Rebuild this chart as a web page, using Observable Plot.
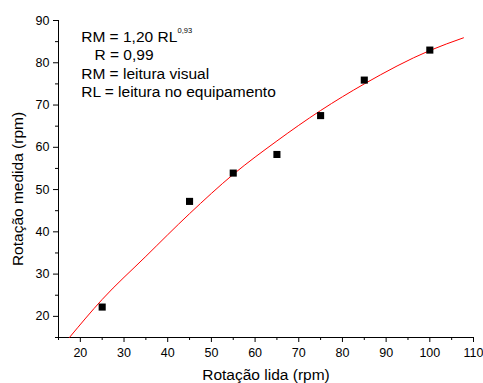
<!DOCTYPE html>
<html>
<head>
<meta charset="utf-8">
<script src="https://cdn.jsdelivr.net/npm/d3@7"></script>
<script src="https://cdn.jsdelivr.net/npm/@observablehq/plot@0.6"></script>
<style>
  html, body { margin: 0; padding: 0; background: #fff; }
  #chart svg { display: block; }
</style>
</head>
<body>
<div id="chart"></div>
<script>
// Measured rotation (visual reading) against rotation read on the equipment
const rotLida = [25, 45, 55, 65, 75, 85, 100];
const rotMedida = [22.2, 47.2, 53.9, 58.3, 67.5, 75.9, 83.0];

// Fitted curve, sampled along its length
const fitX = [17.5, 25, 35, 45, 55, 65, 75, 85, 100, 107.7];
const fitY = [15, 24, 34.2, 44.3, 53.6, 61.5, 68.7, 75.0, 82.9, 85.9];

// Axis ticks
const xTicks = [20, 30, 40, 50, 60, 70, 80, 90, 100, 110];
const xMinor = [15, 25, 35, 45, 55, 65, 75, 85, 95, 105];
const yTicks = [20, 30, 40, 50, 60, 70, 80, 90];
const yMinor = [15, 25, 35, 45, 55, 65, 75, 85];

// Text
const xLabel = "Rotação lida (rpm)";
const yLabel = "Rotação medida (rpm)";
const eqMain = "RM = 1,20 RL";
const eqExp = "0,93";
const corr = "R = 0,99";
const noteRM = "RM = leitura visual";
const noteRL = "RL = leitura no equipamento";

const points = rotLida.map((x, i) => ({x, y: rotMedida[i]}));
const fit = fitX.map((x, i) => ({x, y: fitY[i]}));

const font = "Liberation Sans, Arial, sans-serif";

const chart = Plot.plot({
  width: 483,
  height: 383,
  marginLeft: 58,
  marginRight: 10,
  marginTop: 20,
  marginBottom: 46,
  style: {fontFamily: font, background: "#fff", color: "#000"},
  x: {domain: [15, 110]},
  y: {domain: [15, 90]},
  marks: [
    Plot.axisX({ticks: xTicks, tickSize: 5, tickPadding: 6, fontSize: 12.5, label: null, tickFormat: d => d}),
    Plot.axisX({ticks: xMinor, tickSize: 3, text: null, label: null}),
    Plot.axisY({ticks: yTicks, tickSize: 5, tickPadding: 4, fontSize: 12.5, label: null, tickFormat: d => d}),
    Plot.axisY({ticks: yMinor, tickSize: 3, text: null, label: null}),
    Plot.ruleX([15], {stroke: "#000"}),
    Plot.ruleY([15], {stroke: "#000"}),
    Plot.line(fit, {x: "x", y: "y", stroke: "#ff0000", strokeWidth: 1, curve: "monotone-x"}),
    Plot.dot(points, {x: "x", y: "y", symbol: "square", r: 4, fill: "#000", stroke: "none"}),
    Plot.text([xLabel], {frameAnchor: "bottom", dy: 42, lineAnchor: "bottom", textAnchor: "middle", fontSize: 15.5}),
    Plot.text([yLabel], {frameAnchor: "left", dx: -40, dy: 10, rotate: -90, textAnchor: "middle", lineAnchor: "middle", fontSize: 15.5}),
    Plot.text([eqMain], {frameAnchor: "top-left", dx: 22.7, dy: 10, lineAnchor: "top", textAnchor: "start", fontSize: 15.5}),
    Plot.text([eqExp], {frameAnchor: "top-left", dx: 119, dy: 7, lineAnchor: "top", textAnchor: "start", fontSize: 7.5}),
    Plot.text([corr], {frameAnchor: "top-left", dx: 36, dy: 28, lineAnchor: "top", textAnchor: "start", fontSize: 15.5}),
    Plot.text([noteRM], {frameAnchor: "top-left", dx: 22.7, dy: 47, lineAnchor: "top", textAnchor: "start", fontSize: 15.5}),
    Plot.text([noteRL], {frameAnchor: "top-left", dx: 22.7, dy: 65, lineAnchor: "top", textAnchor: "start", fontSize: 15.5})
  ]
});

document.getElementById("chart").appendChild(chart);
</script>
</body>
</html>
